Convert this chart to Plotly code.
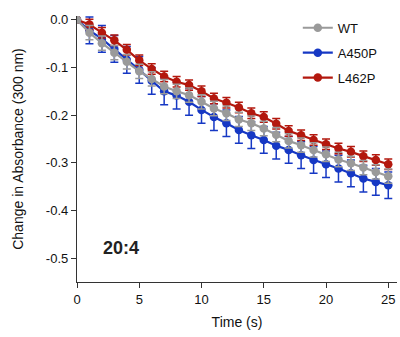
import plotly.graph_objects as go

time_s = list(range(0, 26))
wt = [0, -0.027, -0.049, -0.069, -0.088, -0.108, -0.124, -0.140, -0.150, -0.158,
      -0.172, -0.186, -0.196, -0.209, -0.217, -0.228, -0.241, -0.254, -0.263, -0.273,
      -0.282, -0.293, -0.301, -0.310, -0.319, -0.328]
a450p = [0, -0.022, -0.040, -0.061, -0.084, -0.105, -0.128, -0.150, -0.159, -0.172,
         -0.189, -0.204, -0.217, -0.231, -0.242, -0.252, -0.264, -0.273, -0.284, -0.294,
         -0.303, -0.312, -0.322, -0.333, -0.340, -0.347]
l462p = [0, -0.010, -0.027, -0.043, -0.063, -0.085, -0.103, -0.119, -0.130, -0.137,
         -0.150, -0.165, -0.174, -0.184, -0.196, -0.204, -0.218, -0.233, -0.242, -0.252,
         -0.261, -0.270, -0.277, -0.286, -0.294, -0.303]
wt_err = [0] + [0.015] * 25
a450p_err = [0] + [0.028] * 25
l462p_err = [0] + [0.011] * 25

series = [
    ("A450P", a450p, a450p_err, "#1638c4", 2),
    ("L462P", l462p, l462p_err, "#b3180e", 3),
    ("WT", wt, wt_err, "#9a9a9a", 1),
]

fig = go.Figure()
for name, vals, err, color, rank in series:
    fig.add_trace(go.Scatter(
        x=time_s, y=vals, name=name, mode="lines+markers",
        line=dict(color=color, width=2.2),
        marker=dict(color=color, size=8.5),
        error_y=dict(type="data", array=err, visible=True, color=color,
                     thickness=1.5, width=4),
        legendrank=rank, legendgroup=name,
    ))

fig.add_annotation(x=3.5, y=-0.478, text="<b>20:4</b>", showarrow=False,
                   font=dict(size=18, color="#222222", family="Liberation Sans, Arial"),
                   xref="x", yref="y")

fig.update_layout(
    width=400, height=337,
    margin=dict(l=77, r=3, t=16, b=55),
    plot_bgcolor="white", paper_bgcolor="white",
    font=dict(family="Liberation Sans, Arial", size=13, color="#111111"),
    showlegend=True,
    legend=dict(x=0.69, y=1.012, xanchor="left", yanchor="top",
                bgcolor="rgba(0,0,0,0)", font=dict(size=13),
                tracegroupgap=5, itemwidth=30),
    xaxis=dict(range=[0, 25.7], tickvals=[0, 5, 10, 15, 20, 25],
               showline=True, linecolor="#333333", linewidth=1.3,
               ticks="outside", ticklen=5, tickcolor="#333333",
               showgrid=False, zeroline=False,
               title=dict(text="Time (s)", standoff=11, font=dict(size=14))),
    yaxis=dict(range=[-0.55, 0.008], tickvals=[0, -0.1, -0.2, -0.3, -0.4, -0.5],
               ticktext=["0.0", "-0.1", "-0.2", "-0.3", "-0.4", "-0.5"],
               showline=True, linecolor="#333333", linewidth=1.3,
               ticks="outside", ticklen=5, tickcolor="#333333",
               showgrid=False, zeroline=False,
               title=dict(text="Change in Absorbance (300 nm)", standoff=18,
                          font=dict(size=14))),
)

fig.write_html("out.html", config={"displayModeBar": False},
               post_script="document.body.style.margin='0';document.body.style.padding='0';")
